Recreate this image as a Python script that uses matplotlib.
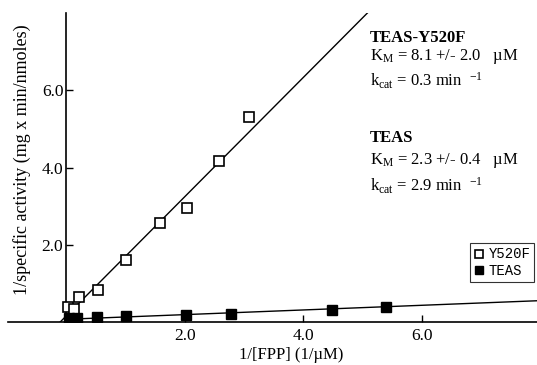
import matplotlib
matplotlib.use("Agg")
import matplotlib.pyplot as plt
from matplotlib.font_manager import FontProperties

plt.rcParams['font.family'] = ['Liberation Serif', 'DejaVu Serif']
plt.rcParams['mathtext.fontset'] = 'custom'
plt.rcParams['mathtext.rm'] = 'Liberation Serif'
plt.rcParams['mathtext.it'] = 'Liberation Serif:italic'
plt.rcParams['mathtext.bf'] = 'Liberation Serif:bold'

# Data
y520f_x = [0.03, 0.13, 0.22, 0.54, 1.01, 1.59, 2.04, 2.58, 3.09]
y520f_y = [0.39, 0.34, 0.65, 0.83, 1.61, 2.57, 2.94, 4.18, 5.30]
teas_x = [0.05, 0.19, 0.52, 1.01, 2.02, 2.78, 4.49, 5.40]
teas_y = [0.10, 0.10, 0.13, 0.16, 0.18, 0.21, 0.31, 0.39]
# fitted lines (end points)
y520f_fit_x = [-0.10, 5.08]
y520f_fit_y = [0.0, 8.0]
teas_fit_x = [0.0, 7.94]
teas_fit_y = [0.07, 0.55]

xticks = [2.0, 4.0, 6.0]
yticks = [2.0, 4.0, 6.0]

fig = plt.figure(figsize=(5.37, 3.65), dpi=100)
ax = fig.add_axes([8/537, 43/365, 529/537, 309/365])
ax.set_xlim(-0.98, 7.94)
ax.set_ylim(0, 8.0)

ax.plot(y520f_fit_x, y520f_fit_y, color='black', lw=1.0)
ax.plot(teas_fit_x, teas_fit_y, color='black', lw=1.0)
ax.plot(y520f_x, y520f_y, linestyle='none', marker='s', markersize=7,
        markerfacecolor='white', markeredgecolor='black', markeredgewidth=1.2,
        label='Y520F', zorder=3)
ax.plot(teas_x, teas_y, linestyle='none', marker='s', markersize=7,
        markerfacecolor='black', markeredgecolor='black', label='TEAS', zorder=3)

for s in ['top', 'right']:
    ax.spines[s].set_visible(False)
ax.spines['left'].set_position(('data', 0.0))
ax.spines['left'].set_linewidth(1.2)
ax.spines['bottom'].set_linewidth(1.2)

ax.set_xticks(xticks)
ax.set_xticklabels([f"{v:.1f}" for v in xticks])
ax.set_yticks(yticks)
ax.set_yticklabels([f"{v:.1f}" for v in yticks])
ax.tick_params(axis='both', direction='in', length=5, width=1.0, labelsize=12.5)
ax.tick_params(axis='x', pad=4)
ax.tick_params(axis='y', pad=2)

fig.text(291/537, 1 - 355/365, "1/[FPP] (1/µM)", ha='center', va='center', fontsize=12)
fig.text(22/537, 1 - 160/365, "1/specific activity (mg x min/nmoles)", rotation=90,
         ha='center', va='center', fontsize=13)

tx = 370/537
def ftxt(y, s, **kw):
    fig.text(tx, 1 - y/365, s, ha='left', va='center', fontsize=12, **kw)

ftxt(38, "TEAS-Y520F", fontweight='bold')
ftxt(57, r"K$_\mathrm{M}$ = 8.1 +/- 2.0   µM")
ftxt(81, r"k$_\mathrm{cat}$ = 0.3 min  $^\mathrm{-1}$")
ftxt(138, "TEAS", fontweight='bold')
ftxt(160, r"K$_\mathrm{M}$ = 2.3 +/- 0.4   µM")
ftxt(186, r"k$_\mathrm{cat}$ = 2.9 min  $^\mathrm{-1}$")

leg = ax.legend(loc='upper right', bbox_to_anchor=(0.995, 0.255),
                prop=FontProperties(family='Liberation Mono', size=10),
                frameon=True, fancybox=False, edgecolor='black',
                handlelength=0.6, handletextpad=0.4, borderpad=0.3,
                labelspacing=0.2, markerscale=0.75, borderaxespad=0)
leg.get_frame().set_linewidth(0.8)

fig.savefig("out.png", dpi=100)
